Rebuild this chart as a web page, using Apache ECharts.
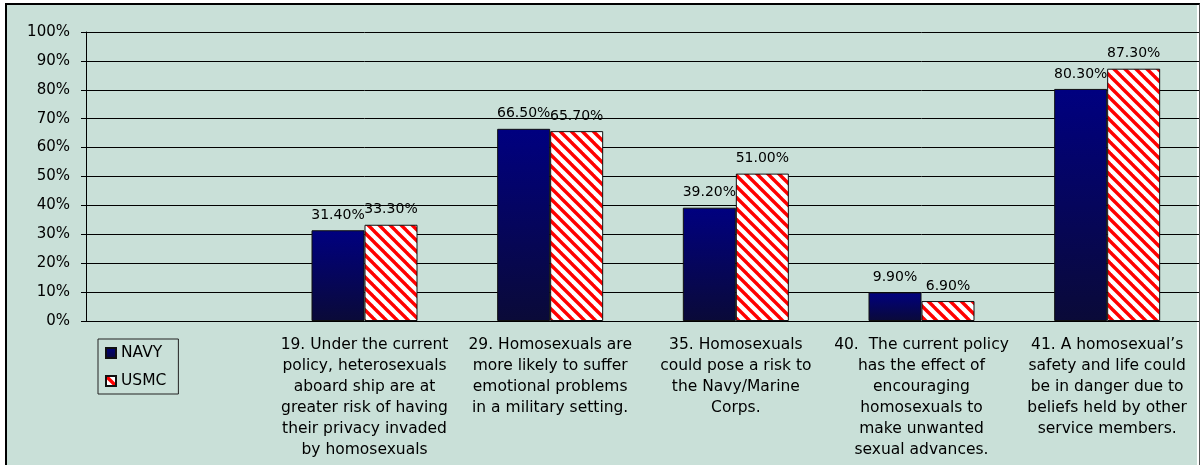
<!DOCTYPE html>
<html>
<head>
<meta charset="utf-8">
<script src="https://cdn.jsdelivr.net/npm/echarts@6/dist/echarts.min.js"></script>
<style>
  html, body { margin: 0; padding: 0; background: #fff; overflow: hidden; }
  #bg, #border {
    position: absolute; left: 5px; top: 3px; width: 1192px; height: 470px;
  }
  #bg { background: #C9E0D8; }
  #border {
    border-left: 2px solid #000; border-top: 2px solid #000; border-right: 1px solid #555;
    pointer-events: none;
  }
  #chart { position: absolute; left: 0; top: 0; width: 1200px; height: 465px; }
</style>
</head>
<body>
<div id="bg"></div>
<div id="chart"></div>
<div id="border"></div>
<script>
// questions (first slot is empty, the legend sits under it)
const questions = [
  '',
  '19. Under the current\npolicy, heterosexuals\naboard ship are at\ngreater risk of having\ntheir privacy invaded\nby homosexuals',
  '29. Homosexuals are\nmore likely to suffer\nemotional problems\nin a military setting.',
  '35. Homosexuals\ncould pose a risk to\nthe Navy/Marine\nCorps.',
  '40.  The current policy\nhas the effect of\nencouraging\nhomosexuals to\nmake unwanted\nsexual advances.',
  '41. A homosexual\u2019s\nsafety and life could\nbe in danger due to\nbeliefs held by other\nservice members.'
];
const navy = ['-', 31.4, 66.5, 39.2, 9.9, 80.3];
const usmc = ['-', 33.3, 65.7, 51.0, 6.9, 87.3];
const yTicks = [0, 100, 10];

const FONT = 'DejaVu Sans';

// red / white diagonal stripes for USMC
function stripes() {
  const p = 11;
  const c = document.createElement('canvas');
  c.width = p; c.height = p;
  const ctx = c.getContext('2d');
  ctx.fillStyle = '#fff';
  ctx.fillRect(0, 0, p, p);
  ctx.strokeStyle = '#ff0000';
  ctx.lineWidth = 3.4;
  for (let k = -1; k <= 1; k++) {
    ctx.beginPath();
    ctx.moveTo(k * p - 2, -2);
    ctx.lineTo(k * p + p + 2, p + 2);
    ctx.stroke();
  }
  return c;
}

const chart = echarts.init(document.getElementById('chart'));

const valueLabel = {
  show: true,
  position: 'top',
  distance: 8,
  color: '#000',
  fontFamily: FONT,
  fontSize: 14,
  formatter: p => p.value.toFixed(2) + '%'
};

chart.setOption({
  backgroundColor: 'transparent',
  animation: false,
  textStyle: { fontFamily: FONT },
  grid: { left: 86, right: -2, top: 32, bottom: 144 },
  legend: {
    orient: 'vertical',
    left: 98,
    top: 339,
    itemWidth: 10,
    itemHeight: 10,
    itemGap: 12,
    padding: [6, 12, 5, 7],
    borderColor: '#222',
    borderWidth: 1,
    icon: 'rect',
    textStyle: { color: '#000', fontSize: 15.5, fontFamily: FONT },
    data: ['NAVY', 'USMC']
  },
  xAxis: {
    type: 'category',
    data: questions,
    axisLine: { lineStyle: { color: '#000', width: 1 } },
    axisTick: { length: 5, lineStyle: { color: '#000' } },
    axisLabel: {
      interval: 0,
      margin: 13,
      color: '#000',
      fontSize: 15.5,
      lineHeight: 21,
      fontFamily: FONT,
      align: 'center'
    }
  },
  yAxis: {
    type: 'value',
    min: yTicks[0],
    max: yTicks[1],
    interval: yTicks[2],
    axisLine: { show: true, lineStyle: { color: '#000' } },
    axisTick: { show: true, length: 5, lineStyle: { color: '#000' } },
    splitLine: { lineStyle: { color: '#000', width: 1 } },
    axisLabel: {
      margin: 16,
      color: '#000',
      fontSize: 15,
      fontFamily: FONT,
      formatter: '{value}%'
    }
  },
  series: [
    {
      name: 'NAVY',
      type: 'bar',
      data: navy,
      barWidth: 53,
      barGap: '0%',
      itemStyle: {
        color: {
          type: 'linear', x: 0, y: 0, x2: 0, y2: 1,
          colorStops: [
            { offset: 0, color: '#000080' },
            { offset: 1, color: '#0a0a38' }
          ]
        },
        borderColor: '#111',
        borderWidth: 1
      },
      label: valueLabel
    },
    {
      name: 'USMC',
      type: 'bar',
      data: usmc,
      barWidth: 53,
      itemStyle: {
        color: { image: stripes(), repeat: 'repeat' },
        borderColor: '#111',
        borderWidth: 1
      },
      label: valueLabel
    }
  ]
});
</script>
</body>
</html>
